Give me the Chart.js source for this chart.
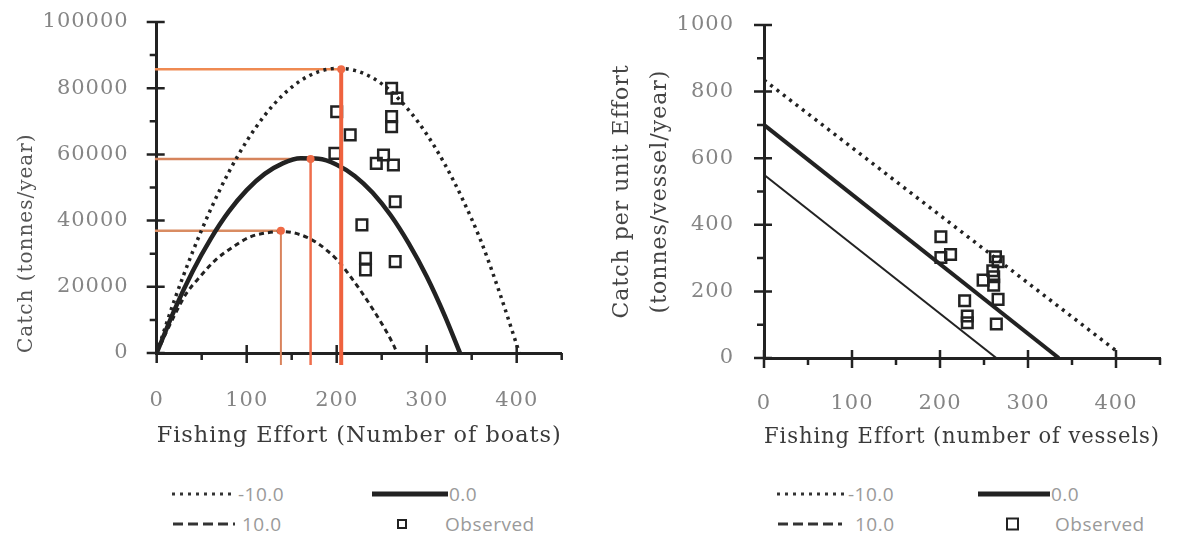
<!DOCTYPE html>
<html>
<head>
<meta charset="utf-8">
<script src="https://cdn.jsdelivr.net/npm/chart.js@4.4.0/dist/chart.umd.min.js"></script>
<style>
    body { margin: 0; background: #fff; width: 1183px; height: 541px; position: relative; overflow: hidden; }
    #leftChart { position: absolute; left: 0; top: 0; }
    #rightChart { position: absolute; left: 590px; top: 0; }
    .lg { position: absolute; font-family: "Open Sans", sans-serif; font-size: 19px; color: #9a9a9a;
          line-height: 1; transform: translateY(-50%); white-space: nowrap; letter-spacing: 0.5px; }
    .smp { position: absolute; transform: translateY(-50%); }
    .dot { height: 3px; background: repeating-linear-gradient(90deg, #333 0 3px, transparent 3px 8px); }
    .dash { height: 3px; background: repeating-linear-gradient(90deg, #333 0 10px, transparent 10px 15px); }
    .solid { height: 5px; background: #222; }
    .sq { border: 2.5px solid #222; box-sizing: border-box; }
</style>
</head>
<body>
<canvas id="leftChart" width="590" height="470"></canvas>
<canvas id="rightChart" width="593" height="470"></canvas>
<div id="legends"></div>
<script>
// ---- left panel: catch (tonnes/year) vs effort (boats) ----
const dottedEffort = [0, 20, 40, 60, 80, 100, 120, 140, 160, 180, 200, 220, 240, 260, 280, 300, 320, 340, 360, 380, 400, 403];
const dottedCatch = [0, 16200, 30600, 43400, 54600, 64000, 71800, 77900, 82300, 85000, 86000, 85400, 83100, 79100, 73400, 66100, 57100, 46400, 34000, 19000, 2500, 0];
const solidEffort = [0, 20, 40, 60, 80, 100, 120, 140, 160, 180, 200, 220, 240, 260, 280, 300, 320, 337];
const solidCatch = [0, 13200, 24700, 34500, 42700, 49200, 54100, 57300, 58800, 58700, 56900, 53500, 48400, 41600, 33100, 23100, 11300, 0];
const dashedEffort = [0, 20, 33, 48, 65, 85, 104, 120, 140, 160, 178, 190, 200, 215, 240, 263, 267];
const dashedCatch = [0, 11500, 18000, 23000, 28000, 32100, 35100, 36200, 36700, 35700, 33300, 30800, 28300, 23200, 13300, 2500, 0];
const obsEffort = [200, 215, 198, 261, 267, 261, 261, 244, 252, 263, 265, 228, 232, 232, 265];
const obsCatch = [72900, 65900, 60300, 80000, 77000, 71400, 68400, 57300, 59800, 56800, 45700, 38700, 28600, 25100, 27600];
// MSY guide lines (10.0, 0.0, -10.0)
const peakEffort = [138, 171, 205];
const peakCatch = [36950, 58600, 85700];

// ---- right panel: CPUE vs effort (vessels) ----
const lineEffortMinus = [0, 400];
const lineCpueMinus = [835, 22];
const lineEffortZero = [0, 335];
const lineCpueZero = [700, 0];
const lineEffortPlus = [0, 264];
const lineCpuePlus = [550, 0];
const obsVessels = [201, 201, 212, 263, 266, 249, 261, 261, 266, 228, 231, 231, 264, 260];
const obsCpue = [364, 302, 311, 304, 289, 234, 244, 219, 176, 172, 126, 106, 102, 262];

const ink = '#222';
const serif = 'DejaVu Serif';

function pts(xs, ys) {
    return xs.map((x, i) => ({ x: x, y: ys[i] }));
}

// tick marks: major ones cross the axis, minor ones hang outside
const tickMarks = {
    id: 'tickMarks',
    beforeDraw(chart) {
        chart.ctx.letterSpacing = '1px';
    },
    beforeDatasetsDraw(chart) {
        const ctx = chart.ctx;
        const area = chart.chartArea;
        const xs = chart.scales.x, ys = chart.scales.y;
        ctx.save();
        ctx.strokeStyle = ink;
        ctx.lineWidth = 2.5;
        ctx.beginPath();
        xs.ticks.forEach(t => {
            const p = xs.getPixelForValue(t.value);
            const major = t.label !== '';
            ctx.moveTo(p, major ? area.bottom - 8 : area.bottom);
            ctx.lineTo(p, area.bottom + (major ? 10 : 7));
        });
        ys.ticks.forEach(t => {
            const p = ys.getPixelForValue(t.value);
            const major = t.label !== '';
            ctx.moveTo(area.left - (major ? 10 : 7), p);
            ctx.lineTo(major ? area.left + 8 : area.left, p);
        });
        ctx.stroke();
        ctx.restore();
    }
};

function axis(opts) {
    return {
        type: 'linear',
        min: opts.min,
        max: opts.max,
        grid: { display: false, drawTicks: false },
        border: { display: true, color: ink, width: 3 },
        ticks: {
            stepSize: opts.step,
            padding: opts.pad,
            color: '#858585',
            font: { family: serif, size: 21 },
            autoSkip: false,
            maxRotation: 0,
            callback: v => (v % opts.labelStep === 0 && v <= opts.labelMax) ? String(v) : ''
        },
        title: opts.title,
        afterFit: s => {
            opts.fit(s);
            s.paddingTop = 0;
            s.paddingBottom = 0;
            s.paddingLeft = 0;
            s.paddingRight = 0;
        }
    };
}

function baseOptions(scales, padding) {
    return {
        responsive: false,
        animation: false,
        layout: { padding: padding, autoPadding: false },
        plugins: { legend: { display: false }, tooltip: { enabled: false } },
        scales: scales
    };
}

// left chart
const guideH = ['#d98c62', '#d6845c', '#ef8a52'];
const guideV = ['#d9835c', '#ef6e4c', '#ef623e'];
const guideW = [2, 2.5, 4];
const leftSets = [];
peakEffort.forEach((e, i) => {
    leftSets.push({
        data: [{ x: -2, y: peakCatch[i] }, { x: e, y: peakCatch[i] }],
        borderColor: guideH[i], borderWidth: 2.5, pointRadius: 0, order: 4, clip: 15
    });
    leftSets.push({
        data: [{ x: e, y: peakCatch[i] }, { x: e, y: -3600 }],
        borderColor: guideV[i], borderWidth: guideW[i], order: 0, clip: 15,
        pointRadius: [4, 0], pointBackgroundColor: '#ef6a45', pointBorderWidth: 0
    });
});
leftSets.push(
    { data: pts(dottedEffort, dottedCatch), borderColor: ink, borderWidth: 3.5, borderDash: [3, 4.5],
      pointRadius: 0, cubicInterpolationMode: 'monotone', order: 1 },
    { data: pts(solidEffort, solidCatch), borderColor: ink, borderWidth: 4.5,
      pointRadius: 0, cubicInterpolationMode: 'monotone', order: 1 },
    { data: pts(dashedEffort, dashedCatch), borderColor: ink, borderWidth: 3, borderDash: [5, 4],
      pointRadius: 0, cubicInterpolationMode: 'monotone', order: 1 },
    { data: pts(obsEffort, obsCatch), showLine: false, pointStyle: 'rect', pointRadius: 7.5,
      pointBorderWidth: 2.5, pointBorderColor: ink, pointBackgroundColor: 'rgba(255,255,255,0)', order: 3 }
);

new Chart(document.getElementById('leftChart'), {
    type: 'line',
    data: { datasets: leftSets },
    options: baseOptions({
        x: axis({
            min: 0, max: 450, step: 50, labelStep: 100, labelMax: 400, pad: 35,
            title: { display: true, text: 'Fishing Effort (Number of boats)', color: '#3a3a3a',
                     font: { family: serif, size: 23 }, padding: { top: 0, bottom: 20 } },
            fit: s => { s.height = 117; }
        }),
        y: axis({
            min: 0, max: 100000, step: 10000, labelStep: 20000, labelMax: 100000, pad: 28,
            title: { display: true, text: 'Catch (tonnes/year)', color: '#555', align: 'start',
                     font: { family: serif, size: 20 }, padding: { top: 15, bottom: 0 } },
            fit: s => { s.width = 156.7; }
        })
    }, { left: 0, top: 22, right: 28.3, bottom: 0 }),
    plugins: [tickMarks]
});

// right chart
new Chart(document.getElementById('rightChart'), {
    type: 'line',
    data: {
        datasets: [
            { data: pts(lineEffortMinus, lineCpueMinus), borderColor: ink, borderWidth: 3.5, borderDash: [3, 5],
              pointRadius: 0, order: 1 },
            { data: pts(lineEffortZero, lineCpueZero), borderColor: ink, borderWidth: 4, pointRadius: 0, order: 1 },
            { data: pts(lineEffortPlus, lineCpuePlus), borderColor: ink, borderWidth: 2, pointRadius: 0, order: 1 },
            { data: pts(obsVessels, obsCpue), showLine: false, pointStyle: 'rect', pointRadius: 7.5,
              pointBorderWidth: 2.5, pointBorderColor: ink, pointBackgroundColor: 'rgba(255,255,255,0)', order: 2 }
        ]
    },
    options: baseOptions({
        x: axis({
            min: 0, max: 450, step: 50, labelStep: 100, labelMax: 400, pad: 32.6,
            title: { display: true, text: 'Fishing Effort (number of vessels)', color: '#3a3a3a',
                     font: { family: serif, size: 23 }, padding: { top: 0, bottom: 19 } },
            fit: s => { s.height = 112; }
        }),
        y: axis({
            min: 0, max: 1000, step: 100, labelStep: 200, labelMax: 1000, pad: 30,
            title: { display: true, text: ['Catch per unit Effort', '(tonnes/vessel/year)'], color: '#444',
                     font: { family: serif, size: 22, lineHeight: 1.7 }, padding: { top: 14, bottom: 0 } },
            fit: s => { s.width = 174; }
        })
    }, { left: 0, top: 25, right: 23, bottom: 0 }),
    plugins: [tickMarks]
});

// legends below each panel
const legendLabels = ['-10.0', '0.0', '10.0', 'Observed'];
const legendSpots = [
    { row: [494, 524], dot: [172, 63, 238], solid: [372, 76, 449], dash: [173, 62, 242], sq: [402, 10, 445] },
    { row: [494, 524], dot: [777, 70, 848], solid: [978, 72, 1051], dash: [778, 64, 855], sq: [1012, 13, 1055] }
];
const host = document.getElementById('legends');
function add(cls, left, top, w, h, text) {
    const d = document.createElement('div');
    d.className = cls;
    d.style.left = left + 'px';
    d.style.top = top + 'px';
    if (w) d.style.width = w + 'px';
    if (h) d.style.height = h + 'px';
    if (text) d.textContent = text;
    host.appendChild(d);
}
legendSpots.forEach(s => {
    add('smp dot', s.dot[0], s.row[0], s.dot[1]);
    add('lg', s.dot[2], s.row[0], 0, 0, legendLabels[0]);
    add('smp solid', s.solid[0], s.row[0], s.solid[1]);
    add('lg', s.solid[2], s.row[0], 0, 0, legendLabels[1]);
    add('smp dash', s.dash[0], s.row[1], s.dash[1]);
    add('lg', s.dash[2], s.row[1], 0, 0, legendLabels[2]);
    add('smp sq', s.sq[0] - s.sq[1] / 2, s.row[1], s.sq[1], s.sq[1]);
    add('lg', s.sq[2], s.row[1], 0, 0, legendLabels[3]);
});
</script>
</body>
</html>
